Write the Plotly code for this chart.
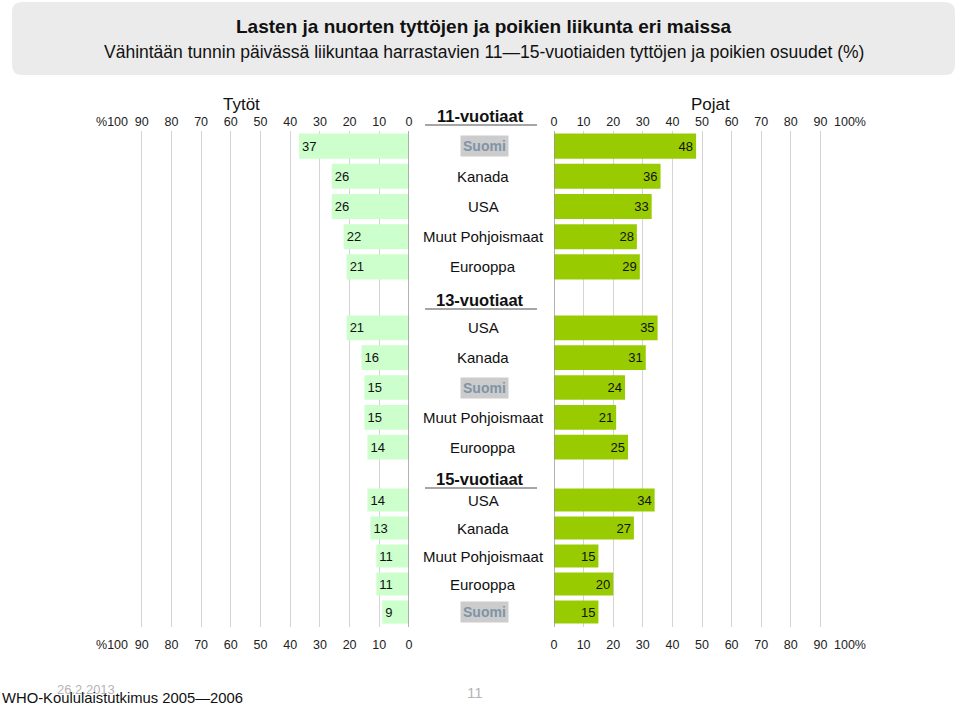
import plotly.graph_objects as go

# ---------------- data ----------------
group_titles = ["11-vuotiaat", "13-vuotiaat", "15-vuotiaat"]
countries_11 = ["Suomi", "Kanada", "USA", "Muut Pohjoismaat", "Eurooppa"]
girls_11 = [37, 26, 26, 22, 21]
boys_11 = [48, 36, 33, 28, 29]
countries_13 = ["USA", "Kanada", "Suomi", "Muut Pohjoismaat", "Eurooppa"]
girls_13 = [21, 16, 15, 15, 14]
boys_13 = [35, 31, 24, 21, 25]
countries_15 = ["USA", "Kanada", "Muut Pohjoismaat", "Eurooppa", "Suomi"]
girls_15 = [14, 13, 11, 11, 9]
boys_15 = [34, 27, 15, 20, 15]
tick_vals = [0, 10, 20, 30, 40, 50, 60, 70, 80, 90, 100]
left_tick_text = ["0", "10", "20", "30", "40", "50", "60", "70", "80", "90", "%100"]
right_tick_text = ["0", "10", "20", "30", "40", "50", "60", "70", "80", "90", "100%"]

title = "Lasten ja nuorten tyttöjen ja poikien liikunta eri maissa"
subtitle = "Vähintään tunnin päivässä liikuntaa harrastavien 11—15-vuotiaiden tyttöjen ja poikien osuudet (%)"

# ---------------- style ----------------
W, H = 960, 705
GIRL = "#ccffcc"
BOY = "#99cc00"
GRID = "#d4d4d4"
SANS = "Liberation Sans, Arial, sans-serif"


def px(x):
    return x / W


def py(y):
    return 1 - y / H


groups = [
    (countries_11, girls_11, boys_11, "y2", (131, 282), 116),
    (countries_13, girls_13, boys_13, "y3", (313, 462), 300),
    (countries_15, girls_15, boys_15, "y4", (486, 626), 479),
]

fig = go.Figure()

# invisible anchor traces for background axes
for xa in ["x", "x2", "x3", "x4"]:
    fig.add_trace(go.Scatter(x=[0], y=[0], xaxis=xa, yaxis="y", mode="markers",
                             marker=dict(opacity=0), hoverinfo="skip", showlegend=False))

annotations = []
shapes = []

for ci, (countries, girls, boys, yax, dom, head_y) in enumerate(groups):
    fig.add_trace(go.Bar(
        x=girls, y=countries, orientation="h", xaxis="x", yaxis=yax,
        marker=dict(color=GIRL, line=dict(width=0)),
        text=[str(v) for v in girls], textposition="inside", insidetextanchor="end",
        textfont=dict(family=SANS, size=13, color="#111111"), constraintext="none",
        hoverinfo="skip", showlegend=False))
    fig.add_trace(go.Bar(
        x=boys, y=countries, orientation="h", xaxis="x2", yaxis=yax,
        marker=dict(color=BOY, line=dict(width=0)),
        text=[str(v) for v in boys], textposition="inside", insidetextanchor="end",
        textfont=dict(family=SANS, size=13, color="#111111"), constraintext="none",
        hoverinfo="skip", showlegend=False))
    for c in countries:
        if c == "Suomi":
            annotations.append(dict(
                x=px(484), y=c, xref="paper", yref=yax, text="Suomi", showarrow=False,
                font=dict(family=SANS, size=14, color="#8094a6", weight="bold"),
                bgcolor="#cccccc", borderpad=2, xanchor="center", yanchor="middle"))
        else:
            annotations.append(dict(
                x=px(483), y=c, xref="paper", yref=yax, text=c, showarrow=False,
                font=dict(family=SANS, size=15, color="#111111"),
                xanchor="center", yanchor="middle"))
    # group header + underline
    annotations.append(dict(
        x=px(480), y=py(head_y), xref="paper", yref="paper", text="<b>%s</b>" % group_titles[ci],
        showarrow=False, font=dict(family=SANS, size=16.5, color="#111111"),
        xanchor="center", yanchor="middle"))
    shapes.append(dict(type="line", xref="paper", yref="paper",
                       x0=px(425), x1=px(537), y0=py(head_y + 9), y1=py(head_y + 9),
                       line=dict(color="#888888", width=1.5)))

# zero lines
for xr in ["x", "x2"]:
    shapes.append(dict(type="line", xref=xr, yref="y domain", x0=0, x1=0, y0=0, y1=1,
                       line=dict(color="#999999", width=1.5), layer="above"))

# title box (rounded)
x0, x1, y0, y1 = px(12), px(955), py(75), py(2)
rx, ry = 10 / W, 10 / H
path = (f"M {x0+rx},{y1} L {x1-rx},{y1} Q {x1},{y1} {x1},{y1-ry} "
        f"L {x1},{y0+ry} Q {x1},{y0} {x1-rx},{y0} L {x0+rx},{y0} Q {x0},{y0} {x0},{y0+ry} "
        f"L {x0},{y1-ry} Q {x0},{y1} {x0+rx},{y1} Z")
shapes.append(dict(type="path", path=path, xref="paper", yref="paper",
                   fillcolor="#ebebeb", line=dict(width=0), layer="below"))

annotations += [
    dict(x=px(484), y=py(27), xref="paper", yref="paper", text="<b>%s</b>" % title,
         showarrow=False, font=dict(family=SANS, size=19, color="#111111"),
         xanchor="center", yanchor="middle"),
    dict(x=px(484), y=py(52), xref="paper", yref="paper", text=subtitle,
         showarrow=False, font=dict(family=SANS, size=17.5, color="#111111"),
         xanchor="center", yanchor="middle"),
    dict(x=px(241), y=py(104), xref="paper", yref="paper", text="Tytöt",
         showarrow=False, font=dict(family=SANS, size=17, color="#111111"),
         xanchor="center", yanchor="middle"),
    dict(x=px(710), y=py(104), xref="paper", yref="paper", text="Pojat",
         showarrow=False, font=dict(family=SANS, size=17, color="#111111"),
         xanchor="center", yanchor="middle"),
    dict(x=px(86), y=py(689), xref="paper", yref="paper", text="26.2.2013",
         showarrow=False, font=dict(family=SANS, size=13, color="#b5b5b5"),
         xanchor="center", yanchor="middle"),
    dict(x=px(475), y=py(692), xref="paper", yref="paper", text="11",
         showarrow=False, font=dict(family=SANS, size=15, color="#b5b5b5"),
         xanchor="center", yanchor="middle"),
    dict(x=0, y=py(698), xref="paper", yref="paper", text="WHO-Koululaistutkimus 2005—2006",
         showarrow=False, font=dict(family=SANS, size=14.8, color="#111111"),
         xanchor="left", yanchor="middle"),
]

LD = [px(112), px(409)]
RD = [px(554), px(850)]
tickfont = dict(family=SANS, size=12.5, color="#222222")
common_x = dict(showgrid=True, gridcolor=GRID, gridwidth=1, zeroline=False, showline=False,
                ticks="", fixedrange=True, automargin=False)

layout = dict(
    width=W, height=H, autosize=False,
    margin=dict(l=0, r=0, t=0, b=0, pad=0, autoexpand=False),
    paper_bgcolor="white", plot_bgcolor="rgba(0,0,0,0)",
    barmode="overlay", bargap=0.17, showlegend=False,
    xaxis=dict(domain=LD, range=[100, 0], anchor="y", side="top",
               tickvals=tick_vals, ticktext=left_tick_text, tickfont=tickfont,
               ticklabelstandoff=2, **common_x),
    xaxis2=dict(domain=RD, range=[0, 100], anchor="y", side="top",
                tickvals=tick_vals, ticktext=right_tick_text, tickfont=tickfont,
                ticklabelstandoff=2, **common_x),
    xaxis3=dict(overlaying="x", matches="x", side="bottom", anchor="y",
                tickvals=tick_vals, ticktext=left_tick_text, tickfont=tickfont,
                showgrid=False, zeroline=False, ticks="", ticklabelstandoff=8, automargin=False),
    xaxis4=dict(overlaying="x2", matches="x2", side="bottom", anchor="y",
                tickvals=tick_vals, ticktext=right_tick_text, tickfont=tickfont,
                showgrid=False, zeroline=False, ticks="", ticklabelstandoff=8, automargin=False),
    yaxis=dict(domain=[py(627), py(131)], range=[0, 1], visible=False, fixedrange=True,
               automargin=False),
    annotations=annotations, shapes=shapes,
)
for (countries, _, _, yax, dom, _) in groups:
    key = "yaxis" + yax[1:]
    layout[key] = dict(domain=[py(dom[1]), py(dom[0])], type="category",
                       categoryorder="array", categoryarray=countries,
                       range=[4.5, -0.5], visible=False, showgrid=False, anchor="x",
                       fixedrange=True, automargin=False)

fig.update_layout(**layout)

fig.write_html("out.html", config=dict(displayModeBar=False, staticPlot=True, responsive=False),
               post_script="document.body.style.margin='0';")
